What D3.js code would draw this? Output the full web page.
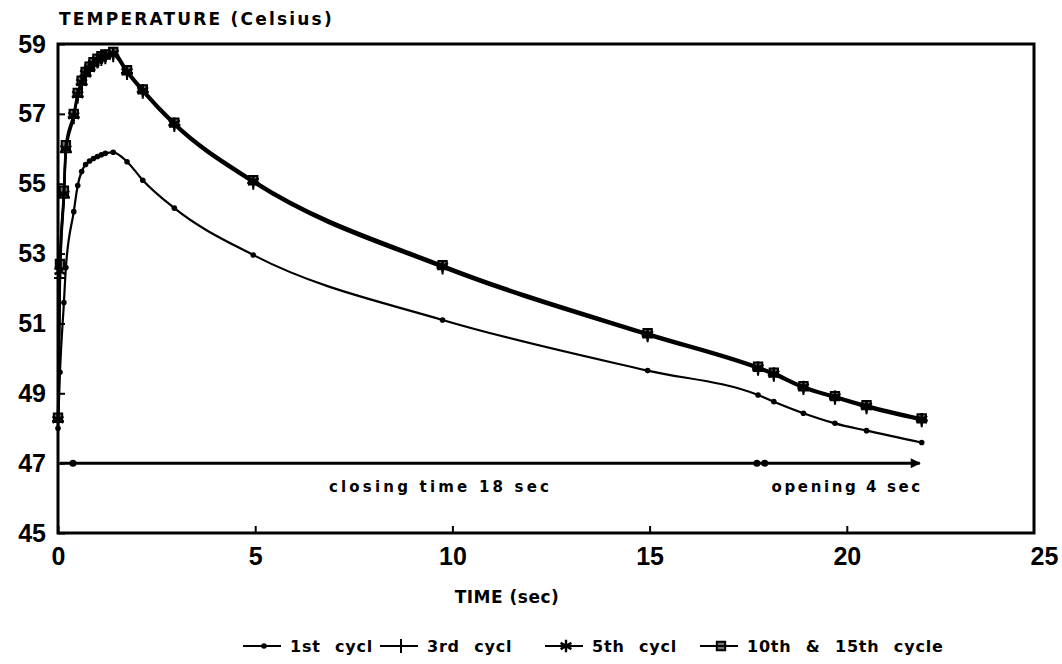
<!DOCTYPE html>
<html>
<head>
<meta charset="utf-8">
<script src="https://cdn.jsdelivr.net/npm/d3@7"></script>
<style>
  body { margin: 0; background: #fff; }
  svg { font-family: "DejaVu Sans", "Liberation Sans", sans-serif; font-weight: bold; }
</style>
</head>
<body>
<div id="chart"></div>
<script>
// values (time in sec, temperature in Celsius)
var times  = [0, 0.05, 0.15, 0.2, 0.4, 0.5, 0.6, 0.7, 0.8, 0.9, 1.0, 1.1, 1.2, 1.4, 1.75, 2.15, 2.95, 4.95, 9.75, 14.95, 17.75, 18.15, 18.9, 19.7, 20.5, 21.9]
var cycle1 = [48.0, 49.6, 51.6, 52.6, 54.2, 54.95, 55.35, 55.55, 55.65, 55.72, 55.78, 55.83, 55.87, 55.9, 55.63, 55.1, 54.3, 52.96, 51.1, 49.65, 48.95, 48.76, 48.43, 48.14, 47.93, 47.59]
var cycle3 = [48.2, 52.3, 54.6, 55.9, 56.9, 57.5, 57.85, 58.1, 58.27, 58.4, 58.5, 58.57, 58.62, 58.68, 58.17, 57.63, 56.68, 55.03, 52.6, 50.66, 49.7, 49.53, 49.15, 48.87, 48.6, 48.23]
var cycle5 = [48.25, 52.5, 54.7, 56.0, 56.95, 57.55, 57.9, 58.15, 58.3, 58.44, 58.54, 58.61, 58.66, 58.73, 58.21, 57.67, 56.72, 55.07, 52.64, 50.69, 49.73, 49.56, 49.18, 48.9, 48.63, 48.26]
var cycle10 = [48.3, 52.7, 54.8, 56.1, 57.0, 57.6, 57.95, 58.2, 58.35, 58.48, 58.58, 58.65, 58.7, 58.77, 58.25, 57.7, 56.75, 55.1, 52.67, 50.72, 49.76, 49.59, 49.2, 48.92, 48.66, 48.28]

var seriesNames = ['1st cycl', '3rd cycl', '5th cycl', '10th & 15th cycle']
var seriesSymbols = ['dot', 'plus', 'star', 'square']

var xTicks = [0, 5, 10, 15, 20, 25]
var yTicks = [45, 47, 49, 51, 53, 55, 57, 59]

// cycle time annotation at 47 C
var phaseLevel = 47
var phaseLine = [0.05, 21.85]
var phaseDots = [0.38, 17.72, 17.92]
var phaseLabels = ['closing time 18 sec', 'opening 4 sec']
var phaseLabelAt = [9.7, 21.85]

var width = 1062, height = 664
var frameRight = 1034

var svg = d3.select('#chart').append('svg')
    .attr('width', width)
    .attr('height', height)

var x = d3.scaleLinear().domain([0, 25]).range([58, 1044])
var y = d3.scaleLinear().domain([45, 59]).range([533, 44])

// axes with short inward ticks
var yAxis = svg.append('g')
    .attr('transform', 'translate(' + x(0) + ',0)')
    .call(d3.axisLeft(y).tickValues(yTicks).tickSize(-7).tickPadding(12).tickFormat(d3.format('d')))
yAxis.select('.domain').remove()
yAxis.selectAll('text').style('font-size', '25px').attr('font-family', null).attr('fill', '#000')
yAxis.selectAll('line').attr('stroke-width', 2)

var xAxis = svg.append('g')
    .attr('transform', 'translate(0,' + y(45) + ')')
    .call(d3.axisBottom(x).tickValues(xTicks).tickSize(-7).tickPadding(14).tickFormat(d3.format('d')))
xAxis.select('.domain').remove()
xAxis.selectAll('text').style('font-size', '25px').attr('font-family', null).attr('fill', '#000')
xAxis.selectAll('line').attr('stroke-width', 2)
xAxis.selectAll('.tick').filter(function (d) { return x(d) > frameRight - 5 }).select('line').remove()

// plot frame
svg.append('rect')
    .attr('x', x(0))
    .attr('y', y(59))
    .attr('width', frameRight - x(0))
    .attr('height', y(45) - y(59))
    .attr('fill', 'none')
    .attr('stroke', '#000')
    .attr('stroke-width', 3)

// titles
svg.append('text')
    .attr('x', 59).attr('y', 25)
    .style('font-size', '17px').style('letter-spacing', '2.2px')
    .text('TEMPERATURE (Celsius)')

svg.append('text')
    .attr('x', 507).attr('y', 603)
    .attr('text-anchor', 'middle')
    .style('font-size', '17px').style('letter-spacing', '0.5px')
    .text('TIME (sec)')

// curves
var line = d3.line()
    .x(function (d) { return x(d[0]) })
    .y(function (d) { return y(d[1]) })
    .curve(d3.curveMonotoneX)

var allSeries = [cycle1, cycle3, cycle5, cycle10]
var plot = svg.append('g')

allSeries.forEach(function (vals, i) {
    var pts = times.map(function (t, j) { return [t, vals[j]] })
    plot.append('path')
        .datum(pts)
        .attr('d', line)
        .attr('fill', 'none')
        .attr('stroke', '#000')
        .attr('stroke-width', i == 0 ? 2.2 : 2.4)
})

function drawMarker(g, kind, cx, cy) {
    if (kind == 'dot') {
        g.append('circle').attr('cx', cx).attr('cy', cy).attr('r', 2.8).attr('fill', '#000')
    } else if (kind == 'plus') {
        g.append('path')
            .attr('d', 'M' + (cx - 6) + ',' + cy + 'h12M' + cx + ',' + (cy - 7) + 'v14')
            .attr('stroke', '#000').attr('stroke-width', 2)
    } else if (kind == 'star') {
        g.append('path')
            .attr('d', d3.symbol().type(d3.symbolAsterisk).size(110)())
            .attr('transform', 'translate(' + cx + ',' + cy + ')')
            .attr('fill', 'none').attr('stroke', '#000').attr('stroke-width', 2.4)
    } else {
        g.append('path')
            .attr('d', d3.symbol().type(d3.symbolSquare).size(70)())
            .attr('transform', 'translate(' + cx + ',' + cy + ')')
            .attr('fill', '#000').attr('fill-opacity', 0.55).attr('stroke', '#000').attr('stroke-width', 2)
    }
}

allSeries.forEach(function (vals, i) {
    var g = plot.append('g')
    times.forEach(function (t, j) {
        drawMarker(g, seriesSymbols[i], x(t), y(vals[j]))
    })
})

// cycle time annotation
var ann = svg.append('g')
ann.append('line')
    .attr('x1', x(phaseLine[0])).attr('x2', x(phaseLine[1]))
    .attr('y1', y(phaseLevel)).attr('y2', y(phaseLevel))
    .attr('stroke', '#000').attr('stroke-width', 3)
phaseDots.forEach(function (t) {
    ann.append('circle').attr('cx', x(t)).attr('cy', y(phaseLevel)).attr('r', 3.5).attr('fill', '#000')
})
var ax = x(phaseLine[1]), ay = y(phaseLevel)
ann.append('path')
    .attr('d', 'M' + (ax - 9) + ',' + (ay - 5) + 'L' + (ax + 1) + ',' + ay + 'L' + (ax - 9) + ',' + (ay + 5) + 'Z')
    .attr('fill', '#000')
ann.append('text')
    .attr('x', x(phaseLabelAt[0])).attr('y', y(phaseLevel) + 29)
    .attr('text-anchor', 'middle')
    .style('font-size', '15px').style('letter-spacing', '3.2px')
    .text(phaseLabels[0])
ann.append('text')
    .attr('x', x(phaseLabelAt[1]) + 3).attr('y', y(phaseLevel) + 29)
    .attr('text-anchor', 'end')
    .style('font-size', '15px').style('letter-spacing', '2.6px')
    .text(phaseLabels[1])

// legend
var legendX = [243, 380, 545, 700]
var legend = svg.append('g')
seriesNames.forEach(function (name, i) {
    var lx = legendX[i], ly = 646
    legend.append('line')
        .attr('x1', lx).attr('x2', lx + 38)
        .attr('y1', ly).attr('y2', ly)
        .attr('stroke', '#000').attr('stroke-width', 2.2)
    drawMarker(legend, seriesSymbols[i], lx + 21, ly)
    legend.append('text')
        .attr('x', lx + 47).attr('y', ly + 6)
        .style('font-size', '16px').style('letter-spacing', '0.8px').style('word-spacing', '8px')
        .text(name)
})
</script>
</body>
</html>
